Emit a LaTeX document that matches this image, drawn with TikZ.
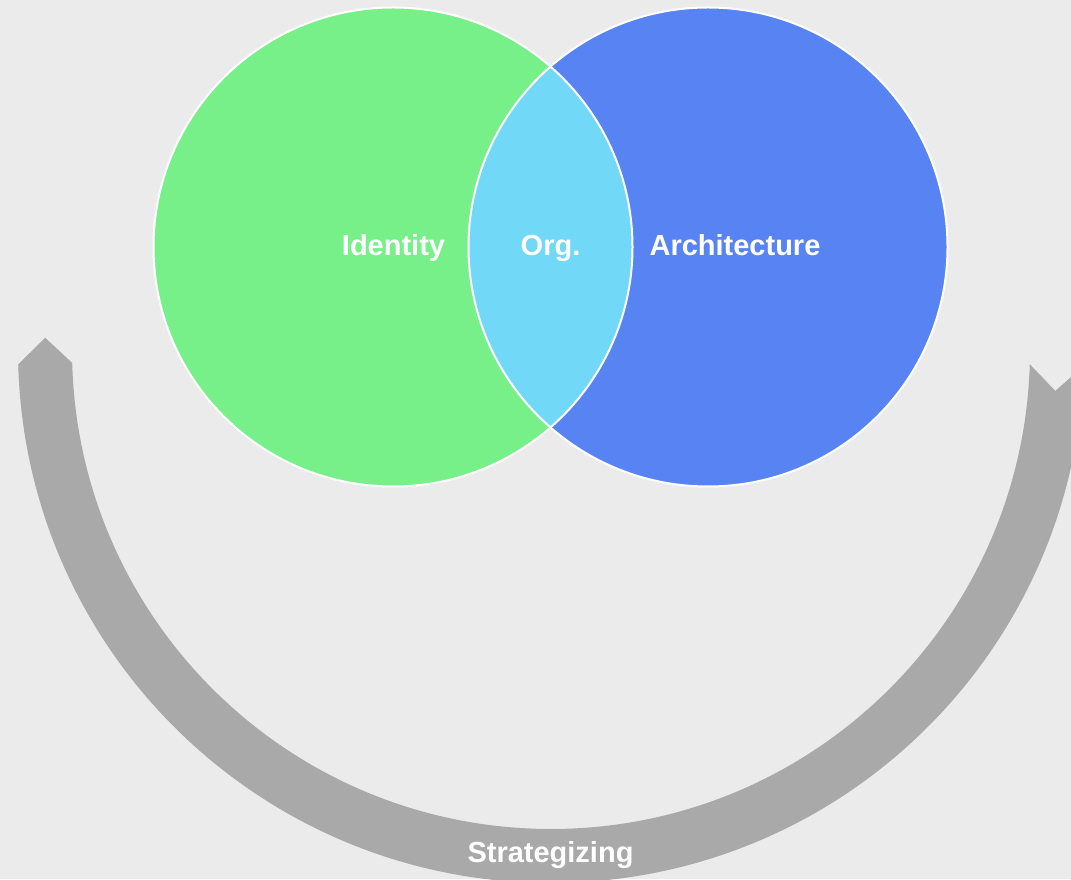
\documentclass[tikz,border=0pt]{standalone}
\usepackage{fontspec}
\setmainfont{Liberation Sans}
\definecolor{bgc}{RGB}{235,235,235}
\definecolor{idgreen}{RGB}{119,240,138}
\definecolor{arblue}{RGB}{88,131,243}
\definecolor{orgcyan}{RGB}{114,216,247}
\definecolor{arrowgray}{RGB}{169,169,169}
\tikzset{
  venn/.style={circle, minimum size=479pt, inner sep=0pt, outer sep=0pt},
  outline/.style={draw=white, line width=2pt},
  lbl/.style={text=white, font=\fontsize{29}{29}\selectfont\bfseries, anchor=base, inner sep=0pt},
}
\begin{document}
\begin{tikzpicture}[x=1pt,y=1pt]
\fill[bgc] (0,0) rectangle (1071,879);
\useasboundingbox (0,0) rectangle (1071,879);
% strategizing arrow
\coordinate (ac) at (551,529);
\def\tA{-1.7}
\def\tB{-178.45}
\fill[arrowgray]
  ([shift={(ac)}]\tA:533pt) -- ([shift={(ac)}]\tA-2.94:506pt) -- ([shift={(ac)}]\tA:479pt)
  arc[start angle=\tA, end angle=\tB, radius=479pt]
  -- ([shift={(ac)}]\tB-2.94:506pt) -- ([shift={(ac)}]\tB:533pt)
  arc[start angle=\tB, end angle=\tA, radius=533pt] -- cycle;
% venn circles
\node[venn, fill=idgreen] (idc) at (393,632) {};
\node[venn, fill=arblue] (arc) at (708,632) {};
\begin{scope}
  \clip (393,632) circle (239.5pt);
  \fill[orgcyan] (708,632) circle (239.5pt);
\end{scope}
\draw[outline] (idc.center) circle (239.5pt);
\draw[outline] (arc.center) circle (239.5pt);
% labels
\node[lbl] (identity) at (393.5,623) {Identity};
\node[lbl] (org) at (550.5,623) {Org.};
\node[lbl] (arch) at (735,623) {Architecture};
\node[lbl] (strat) at (550.5,16.5) {Strategizing};
\end{tikzpicture}
\end{document}
